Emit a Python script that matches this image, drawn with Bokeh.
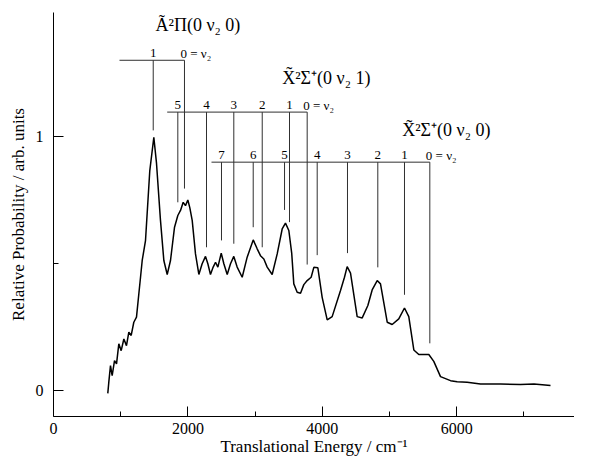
from bokeh.plotting import figure
from bokeh.models import Range1d, FixedTicker, ColumnDataSource
from bokeh.core.properties import value
from bokeh.embed import file_html
from bokeh.resources import INLINE

# ---- data (translational energy in cm^-1, relative probability) ----
energy = [808, 823, 848, 873, 908, 938, 972, 1007, 1047, 1086, 1121, 1156, 1195, 1235,
          1270, 1295, 1320, 1369, 1433, 1493, 1533, 1592, 1642, 1692, 1741, 1801, 1850,
          1890, 1930, 1964, 1999, 2029, 2064, 2113, 2163, 2212, 2262, 2297, 2336, 2376,
          2411, 2446, 2496, 2535, 2585, 2634, 2683, 2733, 2808, 2882, 2972, 3031, 3080,
          3130, 3180, 3254, 3329, 3403, 3452, 3502, 3545, 3576, 3626, 3676, 3725, 3775,
          3834, 3874, 3934, 3998, 4073, 4147, 4271, 4330, 4370, 4420, 4519, 4594, 4678,
          4742, 4817, 4866, 4966, 5040, 5138, 5223, 5287, 5362, 5436, 5585, 5659, 5759,
          5908, 6007, 6156, 6354, 6652, 6949, 7150, 7396]
prob = [-0.011, 0.033, 0.098, 0.059, 0.118, 0.105, 0.184, 0.157, 0.203, 0.177, 0.230,
        0.217, 0.269, 0.289, 0.381, 0.446, 0.512, 0.590, 0.866, 0.997, 0.894, 0.670,
        0.512, 0.457, 0.512, 0.643, 0.689, 0.709, 0.741, 0.728, 0.750, 0.719, 0.670,
        0.538, 0.457, 0.499, 0.528, 0.499, 0.457, 0.486, 0.505, 0.486, 0.541, 0.499,
        0.457, 0.499, 0.528, 0.486, 0.446, 0.525, 0.593, 0.558, 0.531, 0.518, 0.486,
        0.457, 0.538, 0.636, 0.659, 0.630, 0.540, 0.420, 0.387, 0.383, 0.417, 0.433,
        0.446, 0.485, 0.483, 0.367, 0.278, 0.291, 0.394, 0.446, 0.488, 0.462, 0.291,
        0.286, 0.335, 0.396, 0.433, 0.420, 0.269, 0.260, 0.282, 0.325, 0.291, 0.160,
        0.142, 0.142, 0.115, 0.055, 0.039, 0.035, 0.033, 0.026, 0.026, 0.024, 0.026,
        0.020]

# progression combs
a_level = 1.30
a_start = 982
a_ticks = [1484, 1949]
a_bottoms = [1.024, 0.795]
a_labels = ["1", "0 = ν₂"]

x1_level = 1.096
x1_start = 1692
x1_ticks = [1850, 2277, 2683, 3106, 3512, 3775]
x1_bottoms = [0.741, 0.564, 0.578, 0.564, 0.663, 0.496]
x1_labels = ["5", "4", "3", "2", "1", "0 = ν₂"]

x0_level = 0.899
x0_start = 2351
x0_ticks = [2500, 2972, 3438, 3924, 4375, 4826, 5223, 5600]
x0_bottoms = [0.591, 0.643, 0.711, 0.533, 0.541, 0.485, 0.377, 0.186]
x0_labels = ["7", "6", "5", "4", "3", "2", "1", "0 = ν₂"]

state_names = ["Ã²Π(0 ν₂ 0)", "X̃²Σ⁺(0 ν₂ 1)", "X̃²Σ⁺(0 ν₂ 0)"]
state_x = [1518, 3403, 5189]
state_y = [1.44, 1.232, 1.024]

x_ticks = [0, 2000, 4000, 6000]
x_minor = [1000, 3000, 5000, 7000]
y_ticks = [0, 1]
y_minor = [0.5]

SERIF = "Liberation Serif"

p = figure(width=574, height=460, output_backend="svg", toolbar_location=None,
           x_range=Range1d(0, 7753), y_range=Range1d(-0.102, 1.488),
           min_border_left=53, min_border_right=0, min_border_top=12,
           min_border_bottom=44)
p.xgrid.visible = False
p.ygrid.visible = False
p.outline_line_color = None
p.background_fill_color = "white"

for ax in (p.xaxis[0], p.yaxis[0]):
    ax.axis_line_color = "black"
    ax.major_tick_line_color = "black"
    ax.minor_tick_line_color = "black"
    ax.major_tick_in = 10
    ax.major_tick_out = 0
    ax.minor_tick_in = 5
    ax.minor_tick_out = 0
    ax.major_label_text_font = SERIF
    ax.major_label_text_font_size = "16px"
    ax.major_label_text_color = "black"
    ax.axis_label_text_font = SERIF
    ax.axis_label_text_font_size = "17px"
    ax.axis_label_text_font_style = "normal"
    ax.axis_label_text_color = "black"

p.xaxis.ticker = FixedTicker(ticks=x_ticks, minor_ticks=x_minor)
p.yaxis.ticker = FixedTicker(ticks=y_ticks, minor_ticks=y_minor)
p.xaxis.major_label_standoff = 6
p.xaxis.axis_label_standoff = 0
p.yaxis.major_label_standoff = 10
p.yaxis.axis_label_standoff = 5
p.xaxis.axis_label = "Translational Energy / cm⁻¹"
p.yaxis.axis_label = "Relative Probability / arb. units"

# spectrum
p.line(energy, prob, line_color="black", line_width=1.5)

# combs
comb_color = "#303030"
def draw_comb(level, start, ticks, bottoms, labels):
    p.segment(x0=[start], y0=[level], x1=[ticks[-1]], y1=[level],
              line_color=comb_color, line_width=1)
    p.segment(x0=ticks, y0=[level] * len(ticks), x1=ticks, y1=bottoms,
              line_color=comb_color, line_width=1)
    nums = ColumnDataSource(dict(x=ticks[:-1], y=[level] * (len(ticks) - 1),
                                 t=labels[:-1]))
    p.text(x="x", y="y", text="t", source=nums, text_font=value(SERIF),
           text_font_size=value("13px"), text_align="center",
           text_baseline="alphabetic", y_offset=-7, text_color="black")
    p.text(x=[ticks[-1]], y=[level], text=[labels[-1]], text_font=value(SERIF),
           text_font_size=value("13px"), text_align="left",
           text_baseline="alphabetic", x_offset=-4, y_offset=-7, text_color="black")

draw_comb(a_level, a_start, a_ticks, a_bottoms, a_labels)
draw_comb(x1_level, x1_start, x1_ticks, x1_bottoms, x1_labels)
draw_comb(x0_level, x0_start, x0_ticks, x0_bottoms, x0_labels)

p.text(x=state_x, y=state_y, text=state_names, text_font=value(SERIF),
       text_font_size=value("18px"), text_align="left", text_baseline="middle",
       text_color="black")

open("out.html", "w").write(file_html(p, INLINE))
